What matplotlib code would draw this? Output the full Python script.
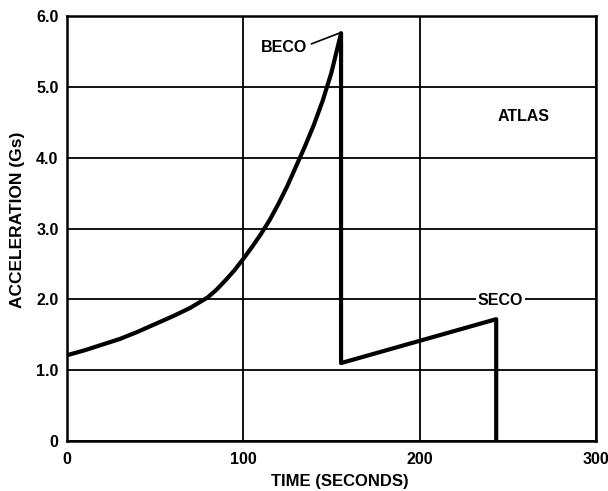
import matplotlib
matplotlib.use("Agg")
import matplotlib.pyplot as plt

plt.rcParams['font.family'] = ['Liberation Sans', 'DejaVu Sans']
plt.rcParams['font.weight'] = 'bold'

# boost phase
boost_t = [0, 10, 20, 30, 40, 50, 60, 70, 80, 85, 90, 95, 100, 105, 110, 115,
           120, 125, 130, 135, 140, 145, 150, 155.5]
boost_g = [1.21, 1.28, 1.36, 1.44, 1.54, 1.65, 1.76, 1.88, 2.03, 2.14, 2.27, 2.41,
           2.57, 2.74, 2.92, 3.12, 3.35, 3.6, 3.88, 4.16, 4.46, 4.8, 5.2, 5.76]
# sustainer phase after BECO
sust_t = [155.5, 243.5, 243.5]
sust_g = [1.1, 1.72, 0.0]

xticks = [0, 100, 200, 300]
xticklabels = ['0', '100', '200', '300']
yticks = [0, 1, 2, 3, 4, 5, 6]
yticklabels = ['0', '1.0', '2.0', '3.0', '4.0', '5.0', '6.0']

fig = plt.figure(figsize=(6.08, 4.91), dpi=100)
ax = fig.add_axes([0.110, 0.102, 0.870, 0.865])

ax.plot(boost_t + sust_t, boost_g + sust_g, color='black', lw=3.0,
        solid_joinstyle='round', zorder=4)

ax.set_xlim(0, 300)
ax.set_ylim(0, 6)
ax.set_xticks(xticks)
ax.set_xticklabels(xticklabels)
ax.set_yticks(yticks)
ax.set_yticklabels(yticklabels)
ax.tick_params(length=0, labelsize=11.5)
ax.tick_params(axis='x', pad=8)
ax.tick_params(axis='y', pad=6)
for lab in ax.get_xticklabels() + ax.get_yticklabels():
    lab.set_fontweight('bold')
ax.grid(True, color='black', lw=1.3)
for s in ax.spines.values():
    s.set_linewidth(1.8)
    s.set_color('black')

ax.set_xlabel('TIME (SECONDS)', fontsize=12, fontweight='bold')
ax.set_ylabel('ACCELERATION (Gs)', fontsize=12.5, fontweight='bold')
ax.xaxis.set_label_coords(0.516, -0.078)
ax.yaxis.set_label_coords(-0.080, 0.52)

ax.text(123, 5.56, 'BECO', fontsize=11.5, fontweight='bold', ha='center', va='center', zorder=5)
ax.plot([138.8, 155.5], [5.61, 5.77], color='black', lw=1.2, zorder=5)
ax.text(246, 1.98, 'SECO', fontsize=11.5, fontweight='bold', ha='center', va='center',
        bbox=dict(facecolor='white', edgecolor='none', pad=1.5), zorder=5)
ax.text(259, 4.59, 'ATLAS', fontsize=11.5, fontweight='bold', ha='center', va='center', zorder=5)

fig.savefig('out.png', dpi=100)
